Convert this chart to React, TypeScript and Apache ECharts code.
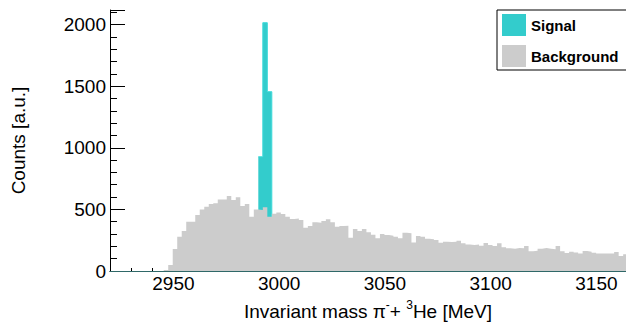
import React, { useEffect, useRef } from "react";
import * as echarts from "echarts";

// ---- axis ranges / ticks ----
const X_MIN = 2920;
const X_MAX = 3164;
const Y_MAX = 2118;
const X_TICK_LABELS = [2950, 3000, 3050, 3100, 3150];
const Y_TICK_LABELS = [0, 500, 1000, 1500, 2000];

// ---- histogram binning ----
const BIN_START = 2945.4; // MeV, low edge of first bin
const BIN_WIDTH = 2.13; // MeV

// ---- background counts per bin ----
const BACKGROUND = [
  8, 49, 178, 278, 324, 400, 400, 454, 500, 522,
  543, 549, 581, 581, 608, 576, 598, 527, 543, 441,
  500, 495, 517, 440, 465, 475, 462, 440, 422, 427,
  414, 351, 365, 395, 392, 405, 419, 395, 359, 365,
  367, 270, 341, 325, 340, 315, 295, 265, 300, 292,
  287, 278, 265, 311, 306, 232, 284, 278, 262, 257,
  251, 230, 238, 235, 238, 246, 225, 216, 211, 216,
  205, 227, 211, 203, 225, 192, 184, 181, 186, 184,
  203, 160, 165, 181, 186, 181, 176, 203, 160, 146,
  157, 151, 143, 162, 157, 149, 143, 143, 141, 143,
  154, 122, 135,
];

// ---- signal counts (stacked on background) ----
const SIGNAL_FIRST_BIN = 21;
const SIGNAL = [432, 1498, 1015];

const FONT = "'Liberation Sans', Arial, Helvetica, sans-serif";
const SIGNAL_COLOR = "#33cccc";
const BG_COLOR = "#cccccc";
const AXIS_FONT_SIZE = 19;

export default function App() {
  const ref = useRef<HTMLDivElement>(null);

  useEffect(() => {
    if (!ref.current) return;
    const chart = echarts.init(ref.current, undefined, { renderer: "svg" });

    const edge = (i: number) => BIN_START + i * BIN_WIDTH;
    const bgData: number[][] = BACKGROUND.map((v, i) => [edge(i), v]);
    bgData.push([edge(BACKGROUND.length), 0]);
    const sigData: number[][] = SIGNAL.map((s, j) => {
      const i = SIGNAL_FIRST_BIN + j;
      return [edge(i), BACKGROUND[i] + s];
    });
    sigData.push([edge(SIGNAL_FIRST_BIN + SIGNAL.length), 0]);

    const isIn = (arr: number[], v: number) => arr.some((a) => Math.abs(a - v) < 1e-6);

    chart.setOption({
      animation: false,
      textStyle: { fontFamily: FONT },
      grid: {
        left: 110,
        right: 0,
        top: 10,
        bottom: 51,
        containLabel: false,
        outerBoundsMode: "none",
      },
      xAxis: [
        {
          type: "value",
          min: X_MIN,
          max: X_MAX,
          interval: 10,
          position: "bottom",
          axisLine: { show: false },
          axisTick: { show: true, inside: true, length: 3, lineStyle: { color: "#000" } },
          splitLine: { show: false },
          axisLabel: {
            fontSize: AXIS_FONT_SIZE,
            color: "#000",
            fontFamily: FONT,
            margin: 3,
            formatter: (v: number) => (isIn(X_TICK_LABELS, v) ? String(Math.round(v)) : ""),
          },
          name: "{n|Invariant mass π}{sup|-}{n|+ }{sup|3}{n|He [MeV]}",
          nameLocation: "middle",
          nameGap: 25,
          nameTextStyle: {
            fontSize: AXIS_FONT_SIZE,
            color: "#000",
            fontFamily: FONT,
            rich: {
              n: {
                fontSize: AXIS_FONT_SIZE,
                lineHeight: 23,
                verticalAlign: "bottom",
                color: "#000",
                fontFamily: FONT,
              },
              sup: {
                fontSize: 12,
                lineHeight: 12,
                verticalAlign: "top",
                padding: [1, 0, 0, 0],
                color: "#000",
                fontFamily: FONT,
              },
            },
          },
        },
        {
          type: "value",
          min: X_MIN,
          max: X_MAX,
          position: "top",
          axisLine: { show: true, lineStyle: { color: "#000", width: 1 } },
          axisTick: { show: false },
          axisLabel: { show: false },
          splitLine: { show: false },
        },
        {
          type: "value",
          min: X_MIN,
          max: X_MAX,
          position: "bottom",
          z: 5,
          axisLine: { show: true, lineStyle: { color: "#2f6868", width: 1 } },
          axisTick: { show: false },
          axisLabel: { show: false },
          splitLine: { show: false },
        },
      ],
      yAxis: [
        {
          type: "value",
          min: 0,
          max: Y_MAX,
          interval: 500,
          position: "left",
          axisLine: { show: true, lineStyle: { color: "#000", width: 1 } },
          axisTick: { show: true, inside: true, length: 15, lineStyle: { color: "#000" } },
          splitLine: { show: false },
          axisLabel: {
            fontSize: AXIS_FONT_SIZE,
            color: "#000",
            fontFamily: FONT,
            margin: 4,
            formatter: (v: number) => (isIn(Y_TICK_LABELS, v) ? String(Math.round(v)) : ""),
          },
          name: "Counts [a.u.]",
          nameLocation: "middle",
          nameGap: 82,
          nameTextStyle: { fontSize: AXIS_FONT_SIZE, color: "#000", fontFamily: FONT },
        },
        {
          type: "value",
          min: 0,
          max: Y_MAX,
          interval: 100,
          position: "left",
          axisLine: { show: false },
          axisTick: { show: true, inside: true, length: 7, lineStyle: { color: "#000" } },
          axisLabel: { show: false },
          splitLine: { show: false },
        },
      ],
      legend: {
        orient: "vertical",
        left: 497,
        top: 10,
        padding: [4, 11, 3, 5],
        itemGap: 9,
        itemWidth: 24,
        itemHeight: 22,
        backgroundColor: "#fff",
        borderColor: "#000",
        borderWidth: 1,
        borderRadius: 0,
        selectedMode: false,
        itemStyle: { borderWidth: 0 },
        textStyle: { fontSize: 15, fontWeight: "bold", color: "#000", fontFamily: FONT },
        data: [
          { name: "Signal", icon: "rect", itemStyle: { color: SIGNAL_COLOR, borderWidth: 0 } },
          { name: "Background", icon: "rect", itemStyle: { color: BG_COLOR, borderWidth: 0 } },
        ],
      },
      series: [
        {
          name: "Signal",
          type: "line",
          xAxisIndex: 0,
          yAxisIndex: 0,
          step: "end",
          symbol: "none",
          showSymbol: false,
          data: sigData,
          itemStyle: { color: SIGNAL_COLOR, borderWidth: 0 },
          lineStyle: { color: "#3fdada", width: 1 },
          areaStyle: { color: SIGNAL_COLOR, opacity: 1 },
          z: 2,
        },
        {
          name: "Background",
          type: "line",
          xAxisIndex: 0,
          yAxisIndex: 0,
          step: "end",
          symbol: "none",
          showSymbol: false,
          data: bgData,
          itemStyle: { color: BG_COLOR, borderWidth: 0 },
          lineStyle: { color: BG_COLOR, width: 0 },
          areaStyle: { color: BG_COLOR, opacity: 1 },
          z: 3,
        },
      ],
    });

    return () => chart.dispose();
  }, []);

  return (
    <div
      ref={ref}
      style={{ position: "absolute", left: 0, top: 0, width: 626, height: 322, background: "#fff" }}
    />
  );
}
